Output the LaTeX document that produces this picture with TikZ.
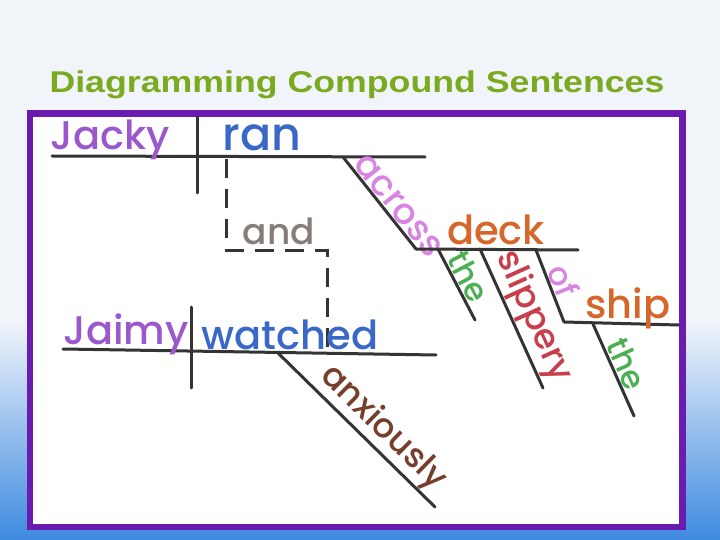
\documentclass[tikz,border=0pt]{standalone}
\usepackage{fontspec}
\setmainfont{Liberation Sans}
\newfontfamily\hand{Poppins}[UprightFont=* Medium]
\usetikzlibrary{positioning}

\definecolor{bgc}{RGB}{241,245,250}
\definecolor{skyb}{RGB}{62,138,224}
\definecolor{titleg}{RGB}{122,170,32}
\definecolor{framep}{RGB}{106,27,176}
\definecolor{lineg}{RGB}{52,52,52}
\definecolor{subjp}{RGB}{155,88,205}
\definecolor{verbb}{RGB}{58,104,200}
\definecolor{conjg}{RGB}{135,124,120}
\definecolor{prepp}{RGB}{215,132,226}
\definecolor{nouno}{RGB}{214,102,42}
\definecolor{artg}{RGB}{76,176,82}
\definecolor{adjr}{RGB}{200,62,76}
\definecolor{advb}{RGB}{120,62,44}

\begin{document}
\begin{tikzpicture}[x=1pt, y=-1pt,
    bar/.style={draw=lineg, line width=3pt, line cap=round},
    conj/.style={draw=lineg, line width=3pt, dash pattern=on 19pt off 11pt},
    word/.style={font=\hand\fontsize{40}{40}\selectfont, inner sep=0pt, anchor=base},
    mod/.style={font=\hand\fontsize{32}{32}\selectfont, sloped, above, inner sep=1pt}]

  % background and frame
  \fill[bgc] (0,0) rectangle (720,540);
  \shade[top color=bgc, bottom color=skyb] (0,320) rectangle (720,540);
  \draw[framep, line width=6.5pt, fill=white] (30,113.5) rectangle (682.5,527);
  \node[font=\bfseries\fontsize{30}{30}\selectfont, text=titleg, anchor=base]
    (ttl) at (357,93) {\scalebox{1.19}[1]{Diagramming Compound Sentences}};

  % first clause
  \coordinate (s1l) at (52,156);   \coordinate (s1r) at (425,157);
  \coordinate (d1t) at (197,117);  \coordinate (d1b) at (197,193);
  \coordinate (a1) at (343,157);   \coordinate (a2) at (416,249);
  \coordinate (k1) at (416,249);   \coordinate (k2) at (578,250);
  \coordinate (t1a) at (438,249);  \coordinate (t1b) at (475,320);
  \coordinate (sl1) at (480,249);  \coordinate (sl2) at (543,388);
  \coordinate (o1) at (536,250);   \coordinate (o2) at (564,322);
  \coordinate (h1) at (564,322);   \coordinate (h2) at (679,325);
  \coordinate (t2a) at (593,324);  \coordinate (t2b) at (634,416);

  \draw[bar] (s1l) -- (s1r);
  \draw[bar] (d1t) -- (d1b);
  \draw[bar] (a1) -- node[mod, text=prepp, pos=0.62, font=\hand\fontsize{36}{36}\selectfont] {across} (a2);
  \draw[bar] (k1) -- (k2);
  \draw[bar] (t1a) -- node[mod, text=artg, pos=0.48] {the} (t1b);
  \draw[bar] (sl1) -- node[mod, text=adjr, pos=0.55, font=\hand\fontsize{35}{35}\selectfont] {slippery} (sl2);
  \draw[bar] (o1) -- node[mod, text=prepp, pos=0.5] {of} (o2);
  \draw[bar, line cap=butt] (h1) -- (h2);
  \draw[bar] (t2a) -- node[mod, text=artg, pos=0.5] {the} (t2b);

  \node[word, text=subjp] (jacky) at (110,150) {Jacky};
  \node[word, text=verbb, font=\hand\fontsize{46}{46}\selectfont] (ran) at (262,151) {ran};
  \node[word, text=nouno] (deck) at (496,244) {deck};
  \node[word, text=nouno] (ship) at (628,318) {ship};

  % conjunction
  \coordinate (c1) at (226,159);
  \coordinate (c2) at (327,250);
  \coordinate (c3) at (327,352);
  \draw[conj] (c1) |- (c2) -- (c3);
  \node[word, text=conjg, font=\hand\fontsize{36}{36}\selectfont] (and) at (279,244) {and};

  % second clause
  \coordinate (s2l) at (63,349);   \coordinate (s2r) at (436,355);
  \coordinate (d2t) at (191,307);  \coordinate (d2b) at (191,388);
  \coordinate (x1) at (278,353);   \coordinate (x2) at (435,507);

  \draw[bar] (s2l) -- (s2r);
  \draw[bar] (d2t) -- (d2b);
  \draw[bar] (x1) -- node[mod, text=advb, pos=0.58, font=\hand\fontsize{34}{34}\selectfont] {anxiously} (x2);

  \node[word, text=subjp] (jaimy) at (126,344) {Jaimy};
  \node[word, text=verbb] (watched) at (290,349) {watched};
\end{tikzpicture}
\end{document}
